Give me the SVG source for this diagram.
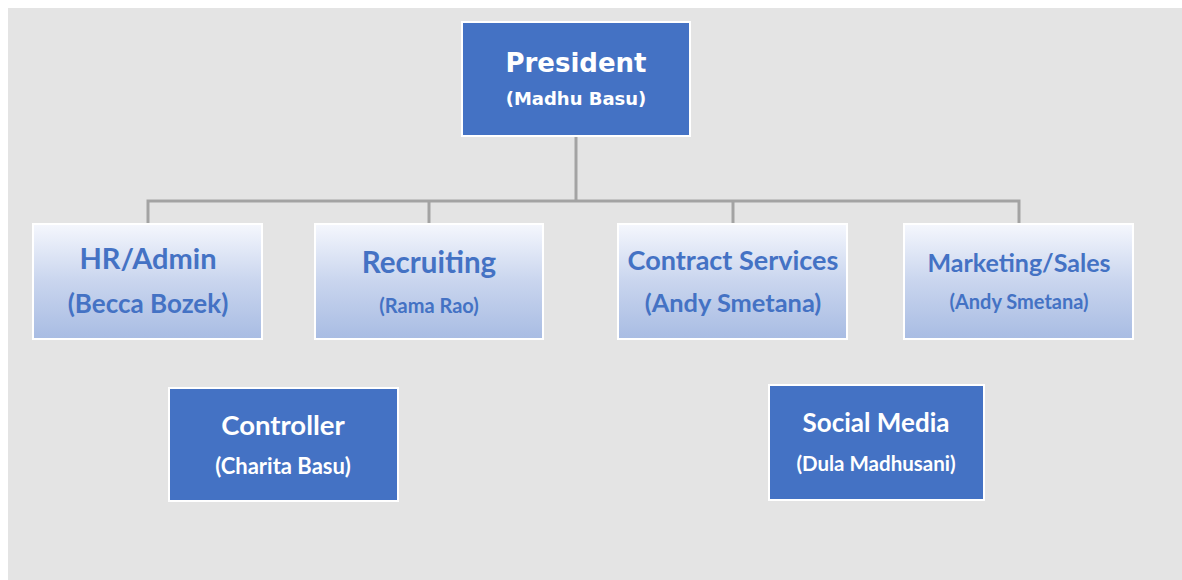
<svg xmlns="http://www.w3.org/2000/svg" width="1182" height="580" viewBox="0 0 1182 580">
<defs>
<linearGradient id="lg" x1="0" y1="0" x2="0" y2="1">
<stop offset="0" stop-color="#f5f7fd"/>
<stop offset="0.5" stop-color="#c9d5ee"/>
<stop offset="1" stop-color="#a8bce3"/>
</linearGradient>
<style>
.dark{fill:#4472c4;stroke:#ffffff;stroke-width:2}
.light{fill:url(#lg);stroke:#ffffff;stroke-width:2}
.t{font-family:Lato,"Liberation Sans",sans-serif;font-weight:bold;text-anchor:middle}
.w{fill:#ffffff}
.b{fill:#4472c4}
.pv{font-family:"DejaVu Sans",Verdana,sans-serif;font-weight:bold;text-anchor:middle;fill:#ffffff}
.c{fill:none;stroke:#a3a3a3;stroke-width:3}
</style>
</defs>
<rect x="8" y="8" width="1174" height="572" fill="#e4e4e4"/>
<g id="connectors">
<path class="c" d="M576 136V201M148 224V201H1019V224M429 201V224M733 201V224"/>
</g>
<g id="president">
<rect class="dark" x="462" y="22" width="228" height="114"/>
<text class="pv" x="576" y="72" font-size="26">President</text>
<text class="pv" x="576" y="105" font-size="18">(Madhu Basu)</text>
</g>
<g id="hr">
<rect class="light" x="33" y="224" width="229" height="115"/>
<text class="t b" x="148" y="269" font-size="29">HR/Admin</text>
<text class="t b" x="148" y="313" font-size="26">(Becca Bozek)</text>
</g>
<g id="recruiting">
<rect class="light" x="315" y="224" width="228" height="115"/>
<text class="t b" x="429" y="273" font-size="29.5">Recruiting</text>
<text class="t b" x="429" y="313" font-size="20">(Rama Rao)</text>
</g>
<g id="contract">
<rect class="light" x="618" y="224" width="229" height="115"/>
<text class="t b" x="733" y="270" font-size="27">Contract Services</text>
<text class="t b" x="733" y="312" font-size="25.4">(Andy Smetana)</text>
</g>
<g id="marketing">
<rect class="light" x="904" y="224" width="229" height="115"/>
<text class="t b" x="1019" y="272" font-size="25">Marketing/Sales</text>
<text class="t b" x="1019" y="309" font-size="20">(Andy Smetana)</text>
</g>
<g id="controller">
<rect class="dark" x="169" y="388" width="229" height="113"/>
<text class="t w" x="283" y="435" font-size="27.5">Controller</text>
<text class="t w" x="283" y="474" font-size="22">(Charita Basu)</text>
</g>
<g id="social">
<rect class="dark" x="769" y="385" width="215" height="115"/>
<text class="t w" x="876" y="432" font-size="26">Social Media</text>
<text class="t w" x="876" y="471" font-size="20.5">(Dula Madhusani)</text>
</g>
</svg>
